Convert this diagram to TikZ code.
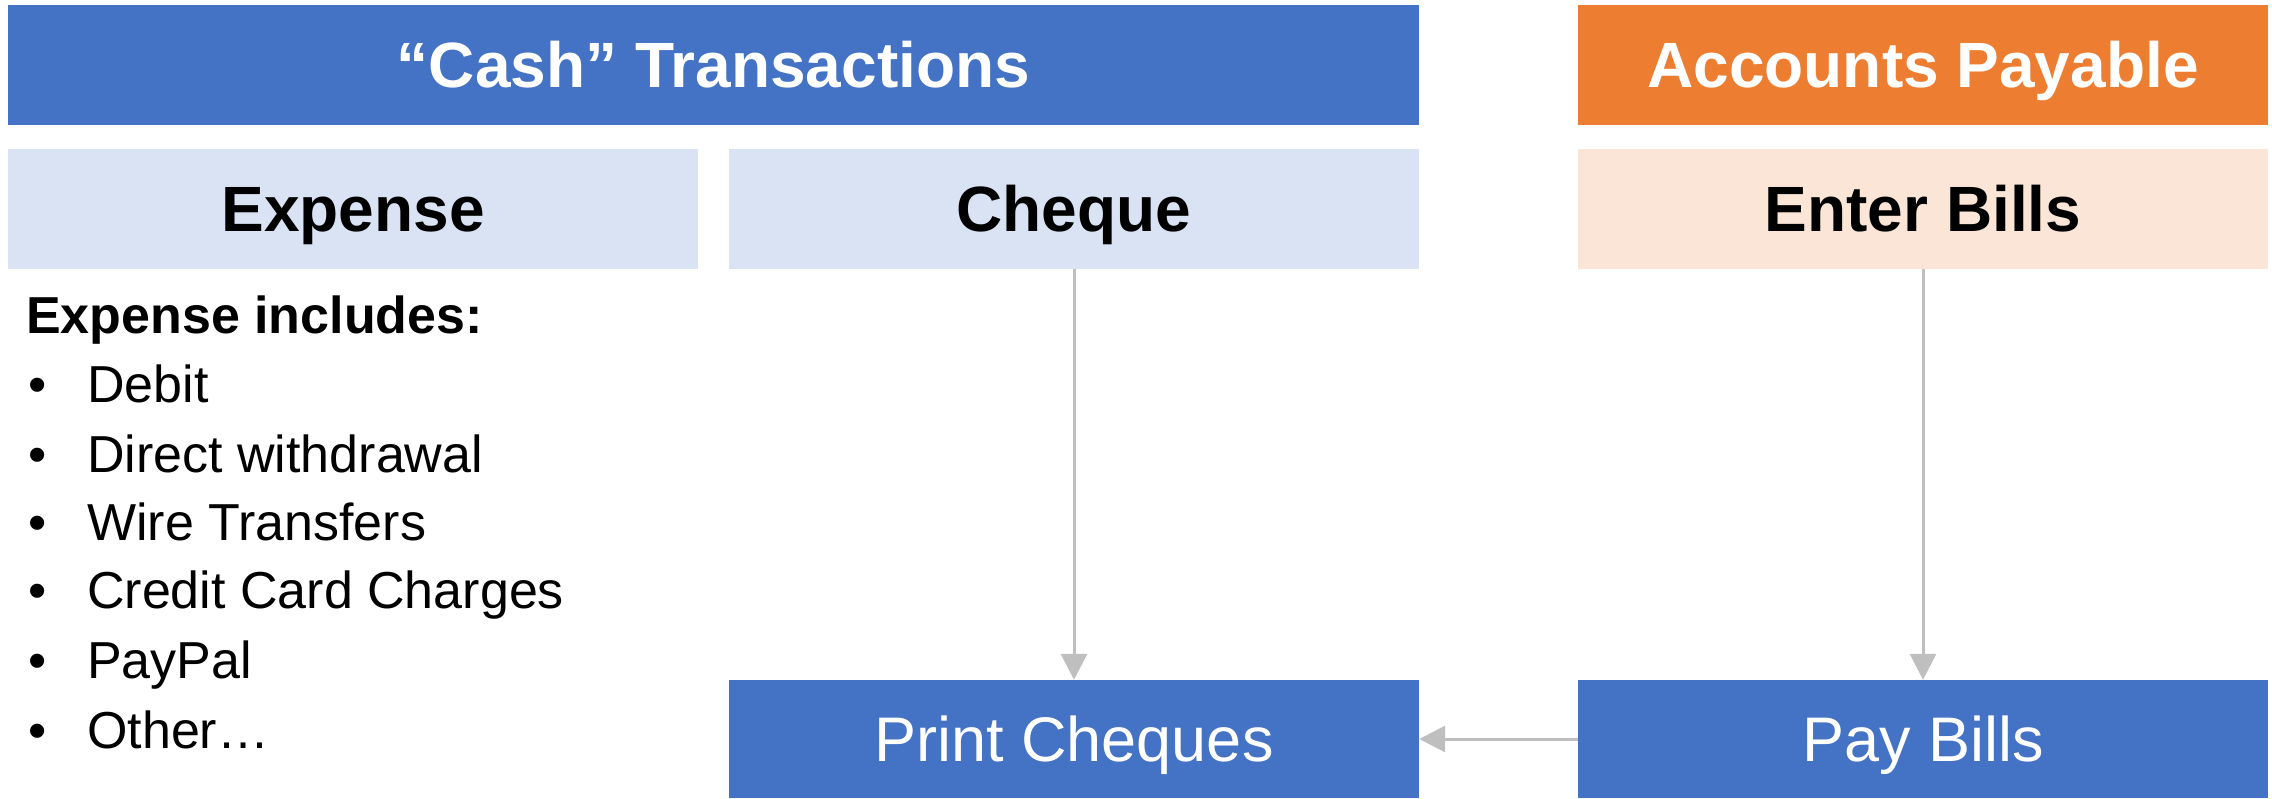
\documentclass[tikz,border=0pt]{standalone}
\usepackage{fontspec}
\setmainfont{Liberation Sans}
\usetikzlibrary{arrows.meta}
\definecolor{hdrblue}{HTML}{4472C4}
\definecolor{hdrorange}{HTML}{ED7D31}
\definecolor{lightblue}{HTML}{DAE3F3}
\definecolor{lightorange}{HTML}{FBE5D6}
\definecolor{arrgray}{HTML}{BFBFBF}
\begin{document}
\begin{tikzpicture}[x=1pt,y=-1pt,
  box/.style={draw=none,inner sep=0pt,text height=45.8pt,text depth=0pt,align=center},
  hdr/.style={box,text=white,font=\fontsize{64}{64}\selectfont\bfseries},
  sub/.style={box,text=black,font=\fontsize{64}{64}\selectfont\bfseries},
  act/.style={box,text=white,font=\fontsize{63}{63}\selectfont},
  listhead/.style={anchor=base west,inner sep=0pt,font=\fontsize{52}{52}\selectfont\bfseries},
  listitem/.style={anchor=base west,inner sep=0pt,font=\fontsize{52}{52}\selectfont},
  arr/.style={draw=arrgray,line width=3pt,-{Triangle[length=26pt,width=26pt]}}]
\useasboundingbox (0,0) rectangle (2272,798);
% headers
\node[hdr,fill=hdrblue,minimum width=1411pt,minimum height=120pt] (cash) at (713.5,65) {“Cash” Transactions};
\node[hdr,fill=hdrorange,minimum width=690pt,minimum height=120pt] (ap) at (1923,65) {Accounts Payable};
% sub headers
\node[sub,fill=lightblue,minimum width=690pt,minimum height=120pt] (expense) at (353,209) {Expense};
\node[sub,fill=lightblue,minimum width=690pt,minimum height=120pt] (cheque) at (1074,209) {Cheque};
\node[sub,fill=lightorange,minimum width=690pt,minimum height=120pt] (enter) at (1923,209) {Enter Bills};
% actions
\node[act,fill=hdrblue,minimum width=690pt,minimum height=118pt] (print) at (1074,739) {Print Cheques};
\node[act,fill=hdrblue,minimum width=690pt,minimum height=118pt] (pay) at (1923,739) {Pay Bills};
% list
\node[listhead] (lh) at (26,333) {Expense includes:};
\node[listitem] (b1) at (28,402) {•};
\node[listitem] (i1) at (87,402) {Debit};
\node[listitem] (b2) at (28,472) {•};
\node[listitem] (i2) at (87,472) {Direct withdrawal};
\node[listitem] (b3) at (28,540) {•};
\node[listitem] (i3) at (87,540) {Wire Transfers};
\node[listitem] (b4) at (28,608) {•};
\node[listitem] (i4) at (87,608) {Credit Card Charges};
\node[listitem] (b5) at (28,678) {•};
\node[listitem] (i5) at (87,678) {PayPal};
\node[listitem] (b6) at (28,748) {•};
\node[listitem] (i6) at (87,748) {Other…};
% connectors
\draw[arr] (cheque.south) -- (print.north);
\draw[arr] (enter.south) -- (pay.north);
\draw[arr] (pay.west) -- (print.east);
\end{tikzpicture}
\end{document}
